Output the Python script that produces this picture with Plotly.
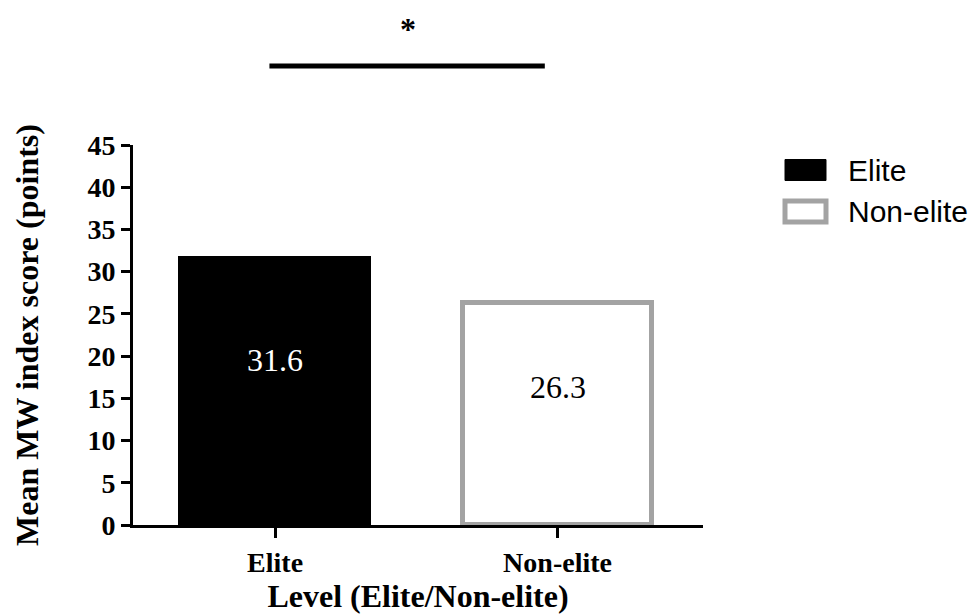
import plotly.graph_objects as go

# Mean MW index score by competitive level
categories = ["Elite", "Non-elite"]
mean_scores = [31.6, 26.3]
y_ticks = [0, 5, 10, 15, 20, 25, 30, 35, 40, 45]

fill_colors = ["#000000", "#ffffff"]
edge_colors = ["#000000", "#a3a3a3"]
edge_widths = [3, 5]
label_colors = ["#ffffff", "#000000"]

serif = "Liberation Serif, Times New Roman, serif"
sans = "Liberation Sans, Arial, sans-serif"

fig = go.Figure()
fig.add_trace(go.Bar(
    x=[0, 1],
    y=mean_scores,
    width=0.67,
    marker=dict(color=fill_colors, line=dict(color=edge_colors, width=edge_widths)),
    showlegend=False,
    hoverinfo="skip",
))

# value labels inside each bar
for i, (v, c) in enumerate(zip(mean_scores, label_colors)):
    fig.add_annotation(x=i, y=v * 0.62, xref="x", yref="y", text=f"{v:.1f}",
                       showarrow=False, font=dict(family=serif, size=32, color=c))

# significance bracket
fig.add_shape(type="line", xref="x", yref="paper", x0=-0.02, x1=0.955, y0=1.208, y1=1.208,
              line=dict(color="black", width=5))
fig.add_annotation(x=0.47, y=1.305, xref="x", yref="paper", text="*", showarrow=False,
                   yanchor="middle", font=dict(family=serif, size=32, color="black", weight="bold"))

# legend drawn as boxes with labels
W, H = 570.0, 380.0
def px_x(px):
    return (px - 133) / W
def px_y(py):
    return (525 - py) / H

legend_rows = [(170, "#000000", "#000000", 1), (211.5, "#ffffff", "#a3a3a3", 5)]
for (cy, fc, lc, lw), name in zip(legend_rows, categories):
    fig.add_shape(type="rect", xref="paper", yref="paper",
                  x0=px_x(785), x1=px_x(826), y0=px_y(cy - 10.5), y1=px_y(cy + 10.5),
                  fillcolor=fc, line=dict(color=lc, width=lw))
    fig.add_annotation(x=px_x(846), y=px_y(cy), xref="paper", yref="paper", text=name,
                       showarrow=False, xanchor="left", yanchor="middle",
                       font=dict(family=sans, size=30, color="black"))

fig.update_layout(
    width=970, height=614,
    margin=dict(l=133, r=267, t=145, b=89),
    plot_bgcolor="white", paper_bgcolor="white",
    bargap=0,
    xaxis=dict(
        range=[-0.503, 1.515], automargin=False,
        tickmode="array", tickvals=[0, 1], ticktext=categories,
        showline=True, linecolor="black", linewidth=3,
        ticks="outside", ticklen=10, tickwidth=3, tickcolor="black",
        showgrid=False, zeroline=False,
        tickfont=dict(family=serif, size=28, color="black", weight="bold"),
        title=dict(text="Level (Elite/Non-elite)", standoff=14,
                   font=dict(family=serif, size=32, color="black", weight="bold")),
    ),
    yaxis=dict(
        range=[0, 45], automargin=False,
        tickmode="array", tickvals=y_ticks,
        showline=True, linecolor="black", linewidth=3,
        ticks="outside", ticklen=9, tickwidth=3, tickcolor="black",
        showgrid=False, zeroline=False,
        tickfont=dict(family=serif, size=28, color="black", weight="bold"),
        title=dict(text="Mean MW index score (points)", standoff=40,
                   font=dict(family=serif, size=32, color="black", weight="bold")),
    ),
)

fig.write_html("out.html")
